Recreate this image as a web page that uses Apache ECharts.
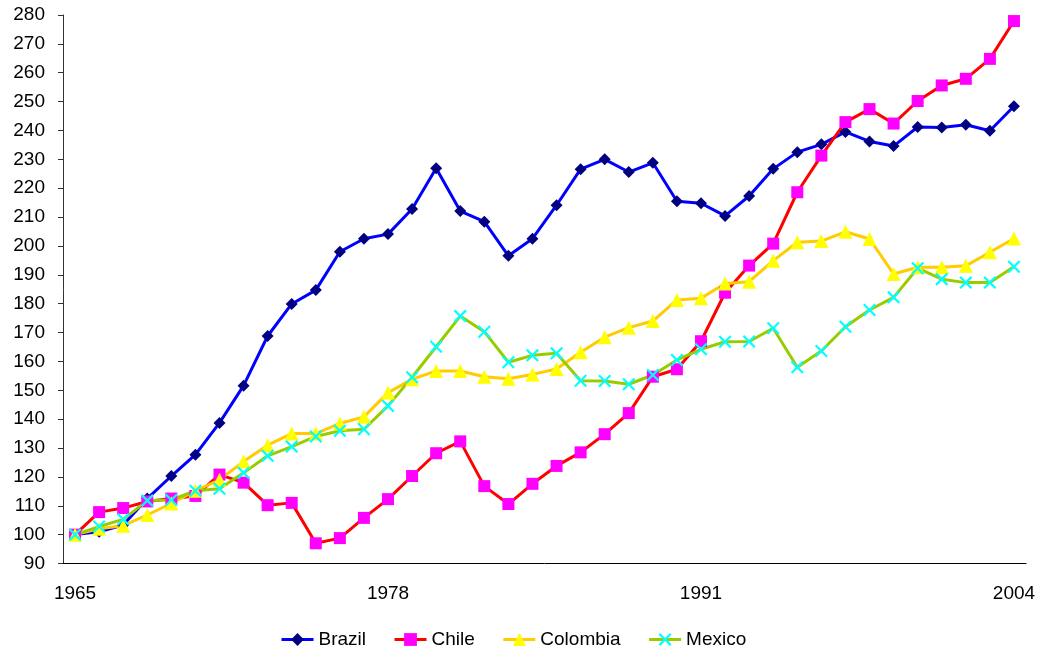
<!DOCTYPE html>
<html>
<head>
<meta charset="utf-8">
<script src="https://cdn.jsdelivr.net/npm/echarts@6/dist/echarts.min.js"></script>
<style>
  html, body { margin: 0; padding: 0; background: #fff; }
  #chart { width: 1040px; height: 651px; }
</style>
</head>
<body>
<div id="chart"></div>
<script>
// Index values (1965 = 100), 1965-2004
const years = [];
for (let y = 1965; y <= 2004; y++) years.push(String(y));

const brazil = [100, 101, 103.3, 112.5, 120.3, 127.7, 138.7, 151.6, 168.8, 179.9,
  184.7, 198, 202.5, 204.1, 212.8, 226.9, 212.1, 208.4, 196.6, 202.5,
  214.1, 226.6, 230, 225.6, 228.8, 215.5, 214.8, 210.4, 217.3, 226.7,
  232.5, 235.2, 239.5, 236.2, 234.6, 241.2, 241, 242, 239.9, 248.4];

const chile = [100, 107.8, 109.2, 111.5, 112.5, 113.4, 120.8, 118, 110.2, 111,
  97, 98.8, 105.8, 112.3, 120.3, 128.2, 132.3, 116.8, 110.6, 117.6,
  123.8, 128.5, 134.8, 142.1, 154.7, 157.3, 167, 183.8, 193.2, 200.8,
  218.6, 231.3, 242.9, 247.4, 242.4, 250.2, 255.6, 257.9, 264.8, 277.9];

const colombia = [100, 102, 103.1, 106.8, 110.8, 115.2, 119, 125.3, 131, 135,
  135, 138.5, 140.8, 149.2, 153.8, 156.7, 156.7, 154.7, 154, 155.5,
  157.4, 163.2, 168.4, 171.7, 174, 181.3, 181.9, 187, 187.6, 194.9,
  201.3, 201.7, 204.9, 202.4, 190.3, 192.6, 192.6, 193.1, 197.8, 202.6];

const mexico = [100, 102.8, 105.3, 111.8, 112, 115.2, 115.9, 121.4, 127.3, 130.5,
  134, 136, 136.5, 144.6, 154.5, 165.1, 175.7, 170.3, 159.7, 162.1,
  162.8, 153.3, 153.2, 152.1, 155.3, 160.5, 164.2, 166.8, 166.9, 171.5,
  158, 163.6, 172, 177.8, 182.2, 192.3, 188.5, 187.3, 187.3, 192.8];

const seriesNames = ['Brazil', 'Chile', 'Colombia', 'Mexico'];

// thin "x" marker drawn as a filled outline
const crossSymbol = 'path://M0,1.2L1.2,0L5,3.8L8.8,0L10,1.2L6.2,5L10,8.8L8.8,10L5,6.2L1.2,10L0,8.8L3.8,5Z';

const font = '"Liberation Sans", Arial, sans-serif';

function lineSeries(name, data, lineColor, markColor, symbol, size) {
  return {
    name: name,
    type: 'line',
    data: data,
    symbol: symbol,
    symbolSize: size,
    showAllSymbol: true,
    lineStyle: { color: lineColor, width: 3 },
    itemStyle: { color: markColor, borderWidth: 0 },
    emphasis: { disabled: true },
    z: 2
  };
}

const chart = echarts.init(document.getElementById('chart'), null, { renderer: 'canvas' });
chart.setOption({
  animation: false,
  backgroundColor: '#ffffff',
  textStyle: { fontFamily: font },
  grid: { left: 63, right: 14, top: 15, bottom: 87.5, containLabel: false },
  legend: {
    data: seriesNames,
    left: 275,
    top: 625,
    itemWidth: 32,
    itemHeight: 16,
    itemGap: 27,
    lineStyle: { width: 3 },
    textStyle: { fontFamily: font, fontSize: 19, color: '#000' }
  },
  xAxis: {
    type: 'category',
    data: years,
    boundaryGap: true,
    axisLine: { lineStyle: { color: '#000', width: 1 } },
    axisTick: { interval: 0, length: 6, lineStyle: { color: '#000' } },
    axisLabel: { interval: 12, color: '#000', fontSize: 19, fontFamily: font, margin: 21 },
    splitLine: { show: false }
  },
  yAxis: {
    type: 'value',
    min: 90,
    max: 280,
    interval: 10,
    axisLine: { show: true, lineStyle: { color: '#333', width: 1 } },
    axisTick: { show: true, length: 5, lineStyle: { color: '#333' } },
    axisLabel: { color: '#000', fontSize: 19, fontFamily: font, margin: 18 },
    splitLine: { show: false }
  },
  series: [
    lineSeries('Brazil', brazil, '#0000FF', '#000080', 'diamond', 12),
    lineSeries('Chile', chile, '#FF0000', '#FF00FF', 'rect', 12),
    lineSeries('Colombia', colombia, '#FFCC00', '#FFFF00', 'triangle', 14),
    lineSeries('Mexico', mexico, '#99CC00', '#00FFFF', crossSymbol, 13)
  ]
});
</script>
</body>
</html>
